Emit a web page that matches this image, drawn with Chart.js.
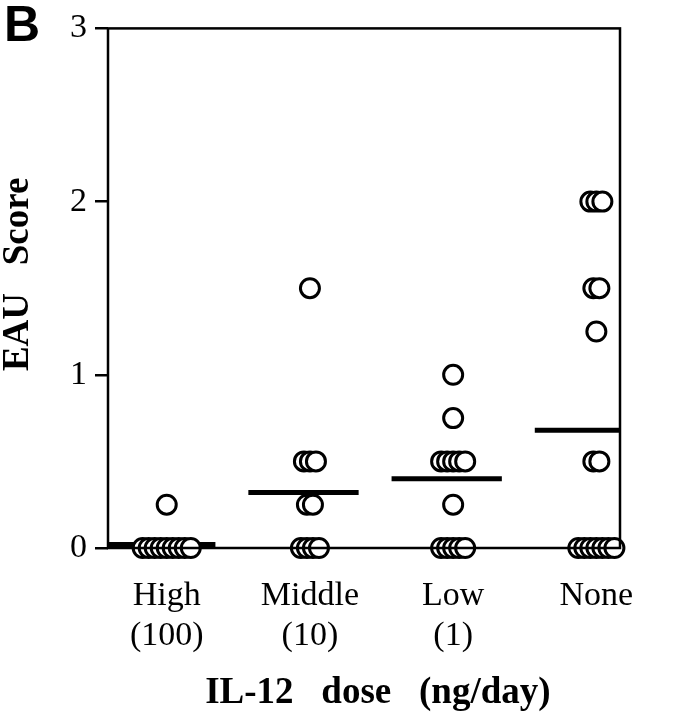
<!DOCTYPE html>
<html>
<head>
<meta charset="utf-8">
<script src="https://cdn.jsdelivr.net/npm/chart.js@4.4.1/dist/chart.umd.min.js"></script>
<style>
  html, body { margin: 0; padding: 0; background: #fff; }
  #wrap { width: 684px; height: 720px; }
</style>
</head>
<body>
<div id="wrap"><canvas id="chart" width="684" height="720"></canvas></div>
<script>
const groupLabels = [['High', '(100)'], ['Middle', '(10)'], ['Low', '(1)'], ['None']];
const highScores = [0, 0, 0, 0, 0, 0, 0, 0, 0, 0.25];
const middleScores = [0, 0, 0, 0, 0.25, 0.25, 0.5, 0.5, 0.5, 1.5];
const lowScores = [0, 0, 0, 0, 0, 0.25, 0.5, 0.5, 0.5, 0.5, 0.5, 0.75, 1.0];
const noneScores = [0, 0, 0, 0, 0, 0, 0, 0.5, 0.5, 1.25, 1.5, 1.5, 2, 2, 2];
const groupMeans = [0.02, 0.32, 0.40, 0.68];
const yTicks = [0, 1, 2, 3];

const allScores = [highScores, middleScores, lowScores, noneScores];
const serif = "'Liberation Serif', 'DejaVu Serif', serif";

// spread equal values sideways so the circles overlap like in the figure
const rowStep = 0.042;
function spreadPoints(scores, center) {
  const counts = {};
  scores.forEach(s => { counts[s] = (counts[s] || 0) + 1; });
  const seen = {};
  return scores.map(s => {
    const i = seen[s] || 0;
    seen[s] = i + 1;
    return { x: center + (i - (counts[s] - 1) / 2) * rowStep, y: s };
  });
}

const datasets = [];

groupMeans.forEach((m, gi) => {
  const c = gi + 1;
  datasets.push({
    type: 'line',
    data: [{ x: c - 0.43, y: m }, { x: c + 0.34, y: m }],
    borderColor: '#000',
    borderWidth: 5,
    pointRadius: 0,
    clip: 0,
    order: 2
  });
});

allScores.forEach((scores, gi) => {
  datasets.push({
    type: 'scatter',
    data: spreadPoints(scores, gi + 1),
    pointStyle: 'circle',
    pointRadius: 9.5,
    pointBorderWidth: 3,
    borderColor: '#000',
    backgroundColor: '#fff',
    clip: false,
    order: 1
  });
});

const framePlugin = {
  id: 'frame',
  afterDraw(chart) {
    const { ctx, chartArea } = chart;
    ctx.save();
    ctx.strokeStyle = '#000';
    ctx.lineWidth = 2.5;
    ctx.strokeRect(chartArea.left, chartArea.top, chartArea.right - chartArea.left, chartArea.bottom - chartArea.top);
    ctx.fillStyle = '#000';
    ctx.font = "bold 50px 'Liberation Sans', Arial, sans-serif";
    ctx.textBaseline = 'top';
    ctx.textAlign = 'left';
    ctx.fillText('B', 4, 2);
    ctx.restore();
  }
};

new Chart(document.getElementById('chart'), {
  type: 'scatter',
  data: { datasets },
  plugins: [framePlugin],
  options: {
    responsive: false,
    animation: false,
    layout: { padding: { top: 20, right: 64, left: 0, bottom: 0 } },
    plugins: {
      legend: { display: false },
      tooltip: { enabled: false }
    },
    scales: {
      x: {
        type: 'linear',
        min: 0.59,
        max: 4.165,
        afterBuildTicks: scale => {
          scale.ticks = groupLabels.map((l, i) => ({ value: i + 1 }));
        },
        afterFit: scale => { scale.height = 172; },
        grid: { display: false, drawTicks: false },
        border: { display: false },
        ticks: {
          color: '#000',
          padding: 28,
          maxRotation: 0,
          autoSkip: false,
          font: { family: serif, size: 34, lineHeight: 1.18 },
          callback: (v) => groupLabels[Math.round(v) - 1]
        },
        title: {
          display: true,
          text: '   IL-12   dose   (ng/day)',
          color: '#000',
          padding: { top: 0, bottom: 4 },
          font: { family: serif, size: 37, weight: 'bold' }
        }
      },
      y: {
        min: 0,
        max: 3,
        afterBuildTicks: scale => {
          scale.ticks = yTicks.map(v => ({ value: v }));
        },
        afterFit: scale => { scale.width = 108; },
        grid: {
          drawOnChartArea: false,
          drawTicks: true,
          tickLength: 13,
          color: '#000',
          lineWidth: 2.5
        },
        border: { display: false },
        ticks: {
          color: '#000',
          padding: 8,
          font: { family: serif, size: 34 }
        },
        title: {
          display: true,
          text: '   EAU   Score',
          color: '#000',
          padding: 0,
          font: { family: serif, size: 37, weight: 'bold', lineHeight: 1.0 }
        }
      }
    }
  }
});
</script>
</body>
</html>
